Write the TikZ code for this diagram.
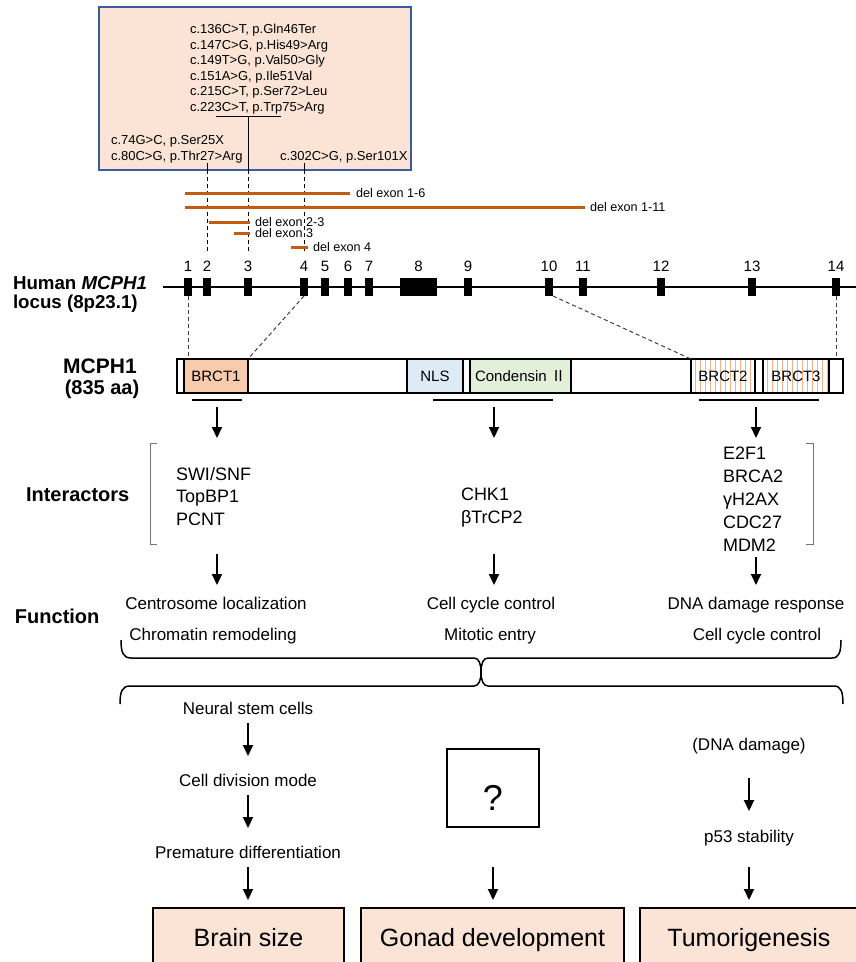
\documentclass[tikz,border=0pt]{standalone}
\usepackage{fontspec}
\setmainfont{Liberation Sans}
\newfontfamily\cjkfont{Noto Sans CJK JP}
\usetikzlibrary{arrows.meta}
\definecolor{peach}{HTML}{FBE4D5}
\definecolor{boxblue}{HTML}{3A5BA0}
\definecolor{delor}{HTML}{C55A11}
\definecolor{brctone}{HTML}{F8CBAD}
\definecolor{nlsblue}{HTML}{DEEBF7}
\definecolor{condgreen}{HTML}{E2F0D9}
\definecolor{stripeor}{HTML}{F4B183}
\newcommand\fsz[1]{\fontsize{#1}{#1}\selectfont}
\begin{document}
\begin{tikzpicture}[x=1pt,y=-1pt,
  every node/.style={inner sep=0pt,outer sep=0pt},
  mut/.style={anchor=base west,font=\fsz{13}},
  dell/.style={anchor=base west,font=\fsz{12.6}},
  delbar/.style={draw=delor,line width=3pt},
  exon/.style={fill=black,minimum width=8pt,minimum height=18pt},
  exnum/.style={anchor=base,font=\fsz{15}},
  lab/.style={anchor=base west,font=\bfseries\fsz{20}},
  dom/.style={draw,line width=1.2pt,minimum height=34pt,font=\fsz{15}},
  stripes/.style={path picture={\foreach \k in {1,...,13}{\draw[stripeor,line width=0.9pt] ([xshift={\k*5pt-1pt}]path picture bounding box.north west) -- ([xshift={\k*5pt-1pt}]path picture bounding box.south west);}}},
  intr/.style={anchor=base west,font=\fsz{18}},
  mid/.style={anchor=base,font=\fsz{17}},
  arr/.style={line width=2pt,-{Triangle[length=11pt,width=10pt]}},
  uline/.style={line width=2.5pt},
  dsh/.style={dash pattern=on 4pt off 3pt,line width=1pt},
  brk/.style={draw=black!55,line width=1pt},
  brace/.style={line width=1.5pt},
  outbox/.style={draw,line width=1.6pt,fill=peach,anchor=north,font=\fsz{25}}]
\useasboundingbox (0,0) rectangle (856,962);

% ---------- mutation box ----------
\node[draw=boxblue,line width=2pt,fill=peach,minimum width=312pt,minimum height=163pt] (mutbox) at (255,88.5) {};
\node[mut] (m1) at (190,33.6) {c.136C>T, p.Gln46Ter};
\node[mut] (m2) at (190,49.1) {c.147C>G, p.His49>Arg};
\node[mut] (m3) at (190,64.6) {c.149T>G, p.Val50>Gly};
\node[mut] (m4) at (190,80.1) {c.151A>G, p.Ile51Val};
\node[mut] (m5) at (190,95.6) {c.215C>T, p.Ser72>Leu};
\node[mut] (m6) at (190,111.1) {c.223C>T, p.Trp75>Arg};
\node[mut] (m7) at (111,144.6) {c.74G>C, p.Ser25X};
\node[mut] (m8) at (111,160.6) {c.80C>G, p.Thr27>Arg};
\node[mut] (m9) at (280,160.6) {c.302C>G, p.Ser101X};

\coordinate (barL) at (216,116);
\coordinate (barR) at (281,116);
\coordinate (barC) at (248,116);
\coordinate (c2top) at (207,163);
\coordinate (c4top) at (304,163);
\coordinate (d2end) at (207,251);
\coordinate (d3end) at (248,251);
\coordinate (d4end) at (304,251);
\draw[line width=1pt] (barL) -- (barR);
\draw[line width=1pt] (barC) -- (barC |- mutbox.south);
\draw[line width=1pt] (c2top) -- (c2top |- mutbox.south);
\draw[line width=1pt] (c4top) -- (c4top |- mutbox.south);
\draw[dsh] (barC |- mutbox.south) -- (d3end);
\draw[dsh] (c2top |- mutbox.south) -- (d2end);
\draw[dsh] (c4top |- mutbox.south) -- (d4end);

% ---------- deletions ----------
\coordinate (x16a) at (185,193); \coordinate (x16b) at (350,193);
\coordinate (x111a) at (185,207); \coordinate (x111b) at (585,207);
\coordinate (x23a) at (209,222); \coordinate (x23b) at (250,222);
\coordinate (x3a) at (234,233); \coordinate (x3b) at (250,233);
\coordinate (x4a) at (291,247); \coordinate (x4b) at (308,247);
\draw[delbar] (x16a) -- (x16b);
\draw[delbar] (x111a) -- (x111b);
\draw[delbar] (x23a) -- (x23b);
\draw[delbar] (x3a) -- (x3b);
\draw[delbar] (x4a) -- (x4b);
\node[dell] (l16) at (356,197.5) {del exon 1-6};
\node[dell] (l111) at (590,211.5) {del exon 1-11};
\node[dell] (l23) at (255,226.3) {del exon 2-3};
\node[dell] (l3) at (255,237.8) {del exon 3};
\node[dell] (l4) at (313,251.5) {del exon 4};

% ---------- locus ----------
\coordinate (locA) at (163,287);
\coordinate (locB) at (856,287);
\draw[line width=1.5pt] (locA) -- (locB);
\foreach \n/\x in {1/188,2/207,3/248,4/304,5/325,6/348,7/369,9/468,10/549,11/583,12/661,13/752,14/836}{
  \node[exon] (e\n) at (\x,287) {};
  \node[exnum] (n\n) at (\x,271.7) {\n};
}
\node[exon,minimum width=37pt] (e8) at (418.5,287) {};
\node[exnum] (n8) at (418.5,271.7) {8};
\node[anchor=base west,font=\bfseries\fsz{18.7}] (hum) at (13,289.5) {Human \textit{MCPH1}};
\node[anchor=base west,font=\bfseries\fsz{18.7}] (loc) at (13,308.5) {locus (8p23.1)};

% ---------- protein ----------
\node[draw,line width=1.5pt,fill=white,minimum width=666pt,minimum height=34pt] (prot) at (510,376) {};
\node[dom,fill=brctone,minimum width=64pt] (brct1) at (216,376) {BRCT1};
\node[dom,fill=nlsblue,minimum width=56pt] (nls) at (435,376) {NLS};
\node[dom,fill=condgreen,minimum width=101pt] (cond) at (520.5,376) {Condensin {\cjkfont Ⅱ}};
\node[dom,fill=white,stripes,minimum width=64pt] (brct2) at (723,376) {BRCT2};
\node[dom,fill=white,stripes,minimum width=66pt] (brct3) at (796,376) {BRCT3};
\node[anchor=base,font=\bfseries\fsz{21}] (mcph) at (100,373) {MCPH1};
\node[anchor=base,font=\bfseries\fsz{20}] (aa) at (102,394) {(835 aa)};

\draw[dsh,black!75] (e1.south) -- (e1.south |- prot.north);
\draw[dsh,black!75] (e4.south) -- (brct1.north east);
\draw[dsh,black!75] (e10.south east) -- (brct2.north west);
\draw[dsh,black!75] (e14.south) -- (e14.south |- prot.north);

% underlines
\coordinate (u1a) at (192,400); \coordinate (u1b) at (242,400);
\coordinate (u2a) at (433,400); \coordinate (u2b) at (553,400);
\coordinate (u3a) at (699,400); \coordinate (u3b) at (819,400);
\draw[uline] (u1a) -- (u1b);
\draw[uline] (u2a) -- (u2b);
\draw[uline] (u3a) -- (u3b);

% arrows to interactors
\coordinate (a1s) at (217,407); \coordinate (a1e) at (217,438);
\coordinate (a2s) at (494,407); \coordinate (a2e) at (494,438);
\coordinate (a3s) at (756,407); \coordinate (a3e) at (756,438);
\draw[arr] (a1s) -- (a1e);
\draw[arr] (a2s) -- (a2e);
\draw[arr] (a3s) -- (a3e);

% ---------- interactors ----------
\node[lab] (intl) at (26,501.7) {Interactors};
\draw[brk] (157,443) -- (150,443) -- (150,544) -- (157,544);
\draw[brk] (806,443) -- (813,443) -- (813,544) -- (806,544);
\node[intr] (i11) at (176,480) {SWI/SNF};
\node[intr] (i12) at (176,502.5) {TopBP1};
\node[intr] (i13) at (176,525) {PCNT};
\node[intr] (i21) at (461,500.5) {CHK1};
\node[intr] (i22) at (461,523.5) {βTrCP2};
\node[intr] (i31) at (723,459.5) {E2F1};
\node[intr] (i32) at (723,482.5) {BRCA2};
\node[intr] (i33) at (723,505.5) {γH2AX};
\node[intr] (i34) at (723,528.5) {CDC27};
\node[intr] (i35) at (723,551.5) {MDM2};

\coordinate (b1s) at (217,554); \coordinate (b1e) at (217,585);
\coordinate (b2s) at (494,554); \coordinate (b2e) at (494,585);
\coordinate (b3s) at (756,557); \coordinate (b3e) at (756,585);
\draw[arr] (b1s) -- (b1e);
\draw[arr] (b2s) -- (b2e);
\draw[arr] (b3s) -- (b3e);

% ---------- function ----------
\node[lab] (funl) at (15,623) {Function};
\node[mid] (f11) at (216,609.3) {Centrosome localization};
\node[mid] (f12) at (213,640) {Chromatin remodeling};
\node[mid] (f21) at (491,609.3) {Cell cycle control};
\node[mid] (f22) at (490,640) {Mitotic entry};
\node[mid] (f31) at (756,609.3) {DNA damage response};
\node[mid] (f32) at (757,640) {Cell cycle control};

% braces
\draw[brace] (121,640) .. controls (121,652) and (123,658) .. (131,658) -- (474,658)
  .. controls (479,658) and (481,664) .. (481,672)
  .. controls (481,664) and (483,658) .. (488,658) -- (832,658)
  .. controls (839,658) and (841,652) .. (841,640);
\draw[brace] (120,704) .. controls (120,692) and (122,686) .. (130,686) -- (474,686)
  .. controls (479,686) and (481,680) .. (481,672)
  .. controls (481,680) and (483,686) .. (488,686) -- (834,686)
  .. controls (841,686) and (843,692) .. (843,704);

% ---------- outcomes ----------
\node[mid] (ns) at (248,714) {Neural stem cells};
\node[mid] (cd) at (248,786) {Cell division mode};
\node[mid] (pd) at (248,858) {Premature differentiation};
\node[mid] (dd) at (749,750) {(DNA damage)};
\node[mid] (p53) at (749,842) {p53 stability};
\node[draw,line width=1.4pt,anchor=north,minimum width=92pt,text height=61pt,text depth=17pt,font=\fsz{36}] (q) at (493,749) {?};

\coordinate (c1s) at (248,723); \coordinate (c1e) at (248,756);
\coordinate (c2s) at (248,795); \coordinate (c2e) at (248,828);
\coordinate (c3s) at (248,867); \coordinate (c3e) at (248,900);
\coordinate (g1s) at (493,867); \coordinate (g1e) at (493,900);
\coordinate (t1s) at (749,778); \coordinate (t1e) at (749,811);
\coordinate (t2s) at (749,867); \coordinate (t2e) at (749,900);
\draw[arr] (c1s) -- (c1e);
\draw[arr] (c2s) -- (c2e);
\draw[arr] (c3s) -- (c3e);
\draw[arr] (g1s) -- (g1e);
\draw[arr] (t1s) -- (t1e);
\draw[arr] (t2s) -- (t2e);

\node[outbox,minimum width=191pt,text height=38pt,text depth=32pt] (brain) at (248.5,908) {Brain size};
\node[outbox,minimum width=263pt,text height=38pt,text depth=32pt] (gonad) at (492.5,908) {Gonad development};
\node[outbox,minimum width=218pt,text height=38pt,text depth=32pt] (tumor) at (749,908) {Tumorigenesis};
\end{tikzpicture}
\end{document}
